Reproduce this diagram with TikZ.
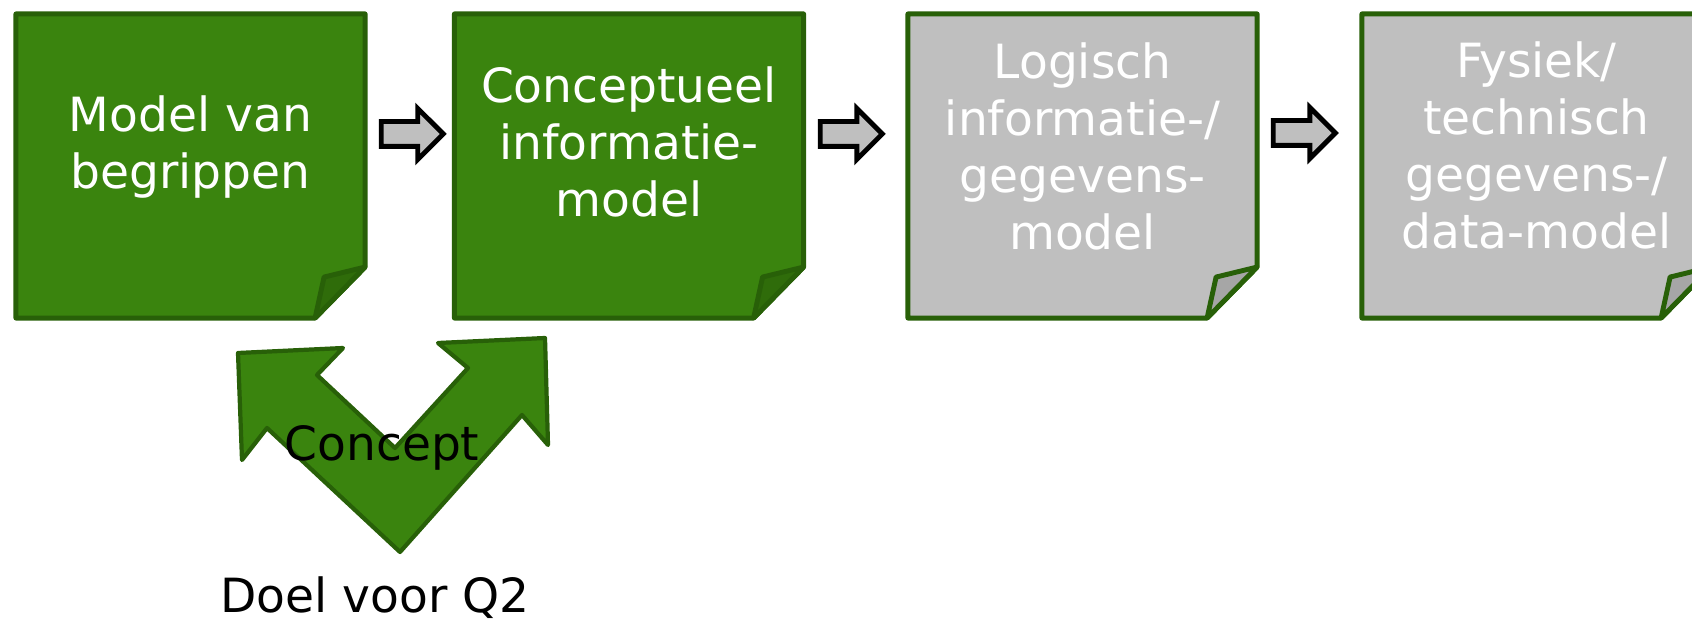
\documentclass[tikz,border=0pt]{standalone}
\usepackage{fontspec}
\newfontfamily\diagfont{DejaVu Sans}
\usetikzlibrary{calc, shapes.arrows}

\definecolor{leaf}{RGB}{58,132,14}
\definecolor{leafdark}{RGB}{40,96,8}
\definecolor{leaffold}{RGB}{47,108,10}
\definecolor{paper}{RGB}{191,191,191}
\definecolor{paperfold}{RGB}{166,166,166}

\tikzset{
  sheet/.style={minimum width=3.49cm, minimum height=3.04cm, inner sep=0pt, outer sep=0pt},
  sheetline/.style={draw=leafdark, line width=1.4pt, line join=round},
  sheettext/.style={text=white, align=center, font=\diagfont\fontsize{13.4}{16.2}\selectfont},
  plaintext/.style={text=black, font=\diagfont\fontsize{13.4}{16.2}\selectfont, anchor=base},
  blockarrow/.style={single arrow, draw=black, fill=paper, line width=1.4pt, minimum height=0.62cm,
    inner sep=0.1cm, single arrow head extend=0.13cm, outer sep=0pt},
}

\begin{document}
\begin{tikzpicture}[x=0.01cm, y=-0.01cm]
    \clip (0,0) rectangle (1692,619);
    % the four sheets
    \node[sheet] (m1) at (190.5,166) {};
    \node[sheet] (m2) at (629,166) {};
    \node[sheet] (m3) at (1082.5,166) {};
    \node[sheet] (m4) at (1536.5,166) {};
    \foreach \n/\c/\f in {m1/leaf/leaffold, m2/leaf/leaffold, m3/paper/paperfold, m4/paper/paperfold} {
        \draw[sheetline, fill=\c] (\n.north west) -- (\n.north east) -- ([yshift=0.51cm]\n.south east)
            -- ([xshift=-0.5cm]\n.south east) -- (\n.south west) -- cycle;
        \draw[sheetline, fill=\f] ([xshift=-0.5cm]\n.south east) -- ([shift={(-0.41cm,0.41cm)}]\n.south east)
            -- ([yshift=0.51cm]\n.south east) -- cycle;
    }
    \node[sheettext] (t1) at ([yshift=0.19cm]m1.center) {Model van\\begrippen};
    \node[sheettext] (t2) at ([yshift=0.24cm]m2.center) {Conceptueel\\informatie-\\model};
    \node[sheettext] (t3) at ([yshift=0.20cm]m3.center) {Logisch\\informatie-/\\gegevens-\\model};
    \node[sheettext] (t4) at ([yshift=0.21cm]m4.center) {Fysiek/\\technisch\\gegevens-/\\data-model};
    % arrows between the sheets
    \node[blockarrow] (a1) at (406,134) {};
    \node[blockarrow] (a2) at (845,134) {};
    \node[blockarrow] (a3) at (1298,133) {};
    % the V-shaped double arrow
    \draw[sheetline, line width=1.2pt, fill=leaf] (238,353) -- (343,348) -- (317,375) -- (395,448)
        -- (468,368) -- (438,343) -- (545,338) -- (548,445) -- (522,415) -- (400,552)
        -- (267,428) -- (242,460) -- cycle;
    \node[plaintext] (concept) at (382,461) {Concept};
    \node[plaintext] (doel) at (375,612) {Doel voor Q2};
\end{tikzpicture}
\end{document}
